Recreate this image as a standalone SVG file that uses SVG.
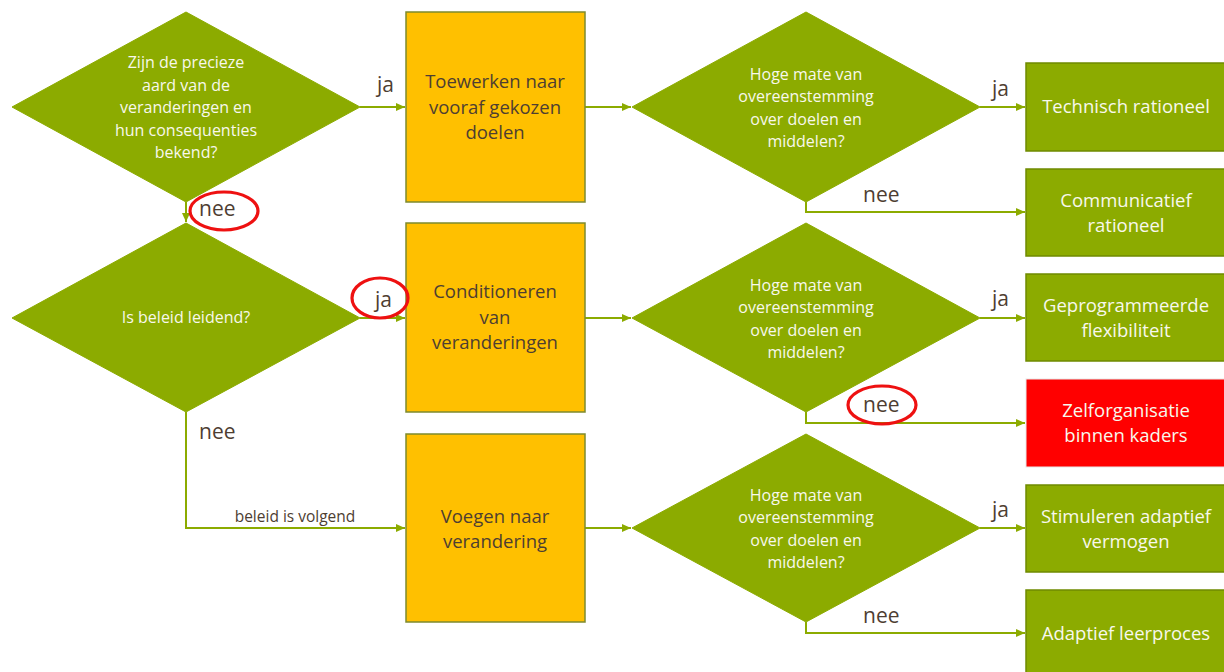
<svg xmlns="http://www.w3.org/2000/svg" width="1224" height="672" viewBox="0 0 1224 672">
<defs>
<marker id="arr" markerWidth="10" markerHeight="10" refX="9" refY="5" orient="auto" markerUnits="userSpaceOnUse">
<path d="M0,1 L9,5 L0,9 z" fill="#8CAB00"/>
</marker>
<style>
.dia{fill:#8CAB00;stroke:#8CAB00;stroke-width:1}
.obox{fill:#FFC000;stroke:#7E8A2E;stroke-width:1.5}
.gbox{fill:#8CAB00;stroke:#6F8A00;stroke-width:1.5}
.rbox{fill:#FF0000;stroke:#E8E8E8;stroke-width:1}
.con{fill:none;stroke:#8CAB00;stroke-width:2}
.wt{font-family:"Open Sans","Noto Sans",sans-serif;fill:#F8F8EC;text-anchor:middle}
.dt{font-family:"Open Sans","Noto Sans",sans-serif;fill:#4E3E32;text-anchor:middle}
.q{font-size:16px}
.b{font-size:18.5px}
.lab{font-family:"Open Sans","Noto Sans",sans-serif;fill:#4E3E32;font-size:21px}
.ring{fill:none;stroke:#EE1111;stroke-width:3.2}
</style>
</defs>
<rect width="1224" height="672" fill="#FFFFFF"/>

<g id="connectors">
<line class="con" x1="360" y1="107" x2="405" y2="107" marker-end="url(#arr)"/>
<line class="con" x1="186" y1="202" x2="186" y2="222" marker-end="url(#arr)"/>
<line class="con" x1="360" y1="318" x2="405" y2="318" marker-end="url(#arr)"/>
<polyline class="con" points="186,412 186,528 405,528" marker-end="url(#arr)"/>
<line class="con" x1="585" y1="107" x2="631" y2="107" marker-end="url(#arr)"/>
<line class="con" x1="585" y1="318" x2="631" y2="318" marker-end="url(#arr)"/>
<line class="con" x1="585" y1="528" x2="631" y2="528" marker-end="url(#arr)"/>
<line class="con" x1="980" y1="107" x2="1025" y2="107" marker-end="url(#arr)"/>
<polyline class="con" points="806,202 806,212 1025,212" marker-end="url(#arr)"/>
<line class="con" x1="980" y1="318" x2="1025" y2="318" marker-end="url(#arr)"/>
<polyline class="con" points="806,412 806,423 1025,423" marker-end="url(#arr)"/>
<line class="con" x1="980" y1="528" x2="1025" y2="528" marker-end="url(#arr)"/>
<polyline class="con" points="806,622 806,633 1025,633" marker-end="url(#arr)"/>
</g>

<g id="q1">
<polygon class="dia" points="186,12 360,107 186,202 12,107"/>
<text class="wt q" x="186"><tspan x="186" y="68">Zijn de precieze</tspan><tspan x="186" y="91">aard van de</tspan><tspan x="186" y="113">veranderingen en</tspan><tspan x="186" y="136">hun consequenties</tspan><tspan x="186" y="158">bekend?</tspan></text>
</g>
<g id="q2">
<polygon class="dia" points="186,223 360,318 186,412 12,318"/>
<text class="wt q" x="186" y="323">Is beleid leidend?</text>
</g>

<g id="a1">
<rect class="obox" x="406" y="12" width="179" height="190"/>
<text class="dt b"><tspan x="495" y="88">Toewerken naar</tspan><tspan x="495" y="114">vooraf gekozen</tspan><tspan x="495" y="139">doelen</tspan></text>
</g>
<g id="a2">
<rect class="obox" x="406" y="223" width="179" height="189"/>
<text class="dt b"><tspan x="495" y="298">Conditioneren</tspan><tspan x="495" y="324">van</tspan><tspan x="495" y="349">veranderingen</tspan></text>
</g>
<g id="a3">
<rect class="obox" x="406" y="434" width="179" height="188"/>
<text class="dt b"><tspan x="495" y="523">Voegen naar</tspan><tspan x="495" y="548">verandering</tspan></text>
</g>

<g id="r1">
<polygon class="dia" points="806,12 980,107 806,202 632,107"/>
<text class="wt q"><tspan x="806" y="80">Hoge mate van</tspan><tspan x="806" y="102">overeenstemming</tspan><tspan x="806" y="125">over doelen en</tspan><tspan x="806" y="147">middelen?</tspan></text>
</g>
<g id="r2">
<polygon class="dia" points="806,223 980,318 806,412 632,318"/>
<text class="wt q"><tspan x="806" y="291">Hoge mate van</tspan><tspan x="806" y="313">overeenstemming</tspan><tspan x="806" y="336">over doelen en</tspan><tspan x="806" y="358">middelen?</tspan></text>
</g>
<g id="r3">
<polygon class="dia" points="806,434 980,528 806,622 632,528"/>
<text class="wt q"><tspan x="806" y="501">Hoge mate van</tspan><tspan x="806" y="523">overeenstemming</tspan><tspan x="806" y="546">over doelen en</tspan><tspan x="806" y="568">middelen?</tspan></text>
</g>

<g id="o1">
<rect class="gbox" x="1026" y="63" width="200" height="88"/>
<text class="wt b" x="1126" y="113">Technisch rationeel</text>
</g>
<g id="o2">
<rect class="gbox" x="1026" y="169" width="200" height="87"/>
<text class="wt b"><tspan x="1126" y="207">Communicatief</tspan><tspan x="1126" y="232">rationeel</tspan></text>
</g>
<g id="o3">
<rect class="gbox" x="1026" y="274" width="200" height="87"/>
<text class="wt b"><tspan x="1126" y="312">Geprogrammeerde</tspan><tspan x="1126" y="337">flexibiliteit</tspan></text>
</g>
<g id="o4">
<rect class="rbox" x="1026" y="379" width="200" height="88"/>
<text class="wt b"><tspan x="1126" y="417">Zelforganisatie</tspan><tspan x="1126" y="442">binnen kaders</tspan></text>
</g>
<g id="o5">
<rect class="gbox" x="1026" y="485" width="200" height="87"/>
<text class="wt b"><tspan x="1126" y="523">Stimuleren adaptief</tspan><tspan x="1126" y="548">vermogen</tspan></text>
</g>
<g id="o6">
<rect class="gbox" x="1026" y="590" width="200" height="90"/>
<text class="wt b" x="1126" y="640">Adaptief leerproces</text>
</g>

<g id="labels">
<text class="lab" x="377" y="92">ja</text>
<text class="lab" x="199" y="216">nee</text>
<text class="lab" x="375" y="307">ja</text>
<text class="lab" x="199" y="439">nee</text>
<text x="295" y="522" font-family="'Open Sans','Noto Sans',sans-serif" font-size="15.5" fill="#4E3E32" text-anchor="middle">beleid is volgend</text>
<text class="lab" x="992" y="96">ja</text>
<text class="lab" x="863" y="202">nee</text>
<text class="lab" x="992" y="306">ja</text>
<text class="lab" x="863" y="412">nee</text>
<text class="lab" x="992" y="517">ja</text>
<text class="lab" x="863" y="623">nee</text>
</g>

<g id="highlights">
<ellipse class="ring" cx="224" cy="211" rx="34" ry="19"/>
<ellipse class="ring" cx="380" cy="298" rx="28" ry="20"/>
<ellipse class="ring" cx="882" cy="405" rx="34" ry="19"/>
</g>
</svg>
